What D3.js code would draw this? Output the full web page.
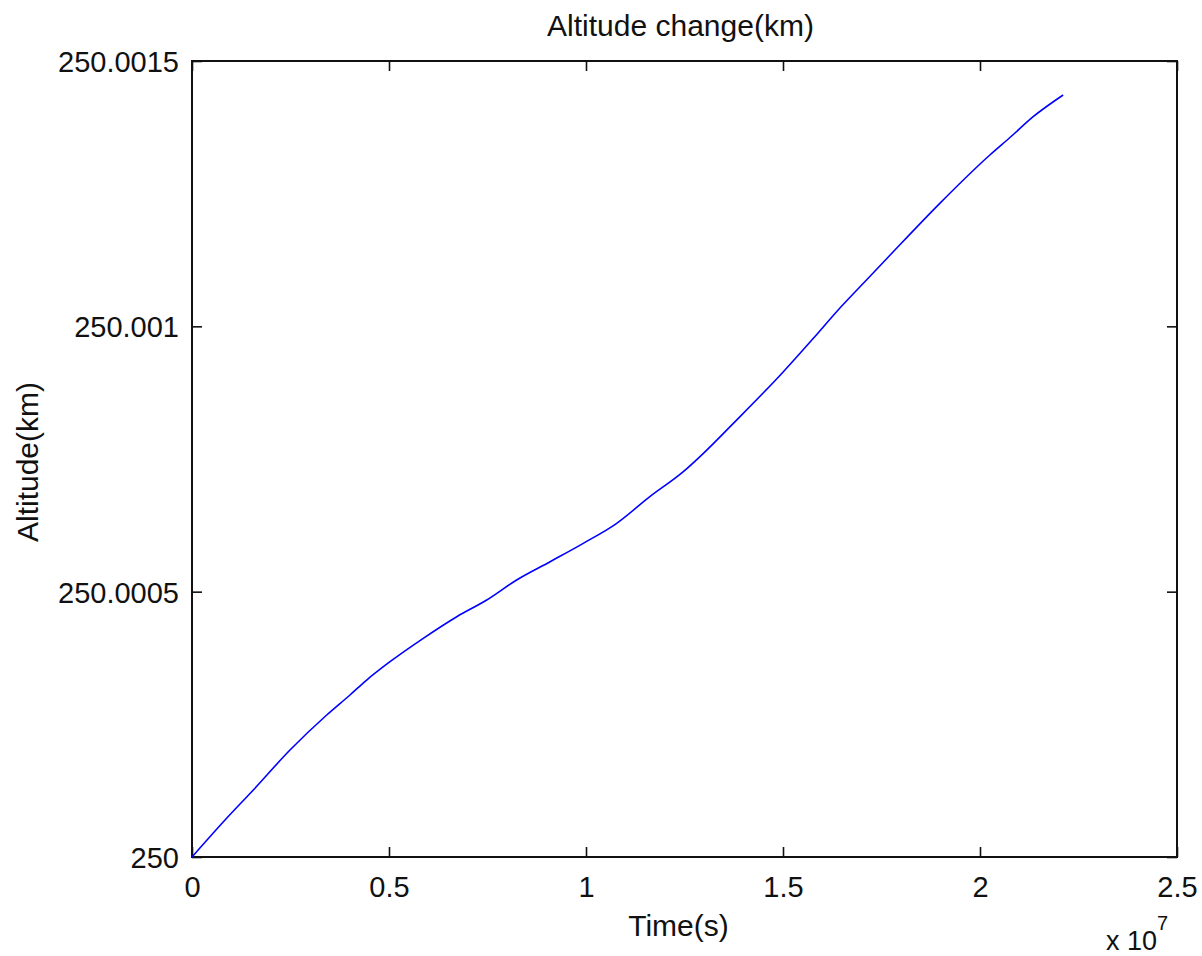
<!DOCTYPE html>
<html>
<head>
<meta charset="utf-8">
<script src="https://cdn.jsdelivr.net/npm/d3@7"></script>
<style>
  html, body { margin: 0; padding: 0; background: #fff; }
  svg text { font-family: "Liberation Sans", Arial, Helvetica, sans-serif; fill: #111; }
</style>
</head>
<body>
<svg id="chart" width="1202" height="956"></svg>
<script>
// Orbit altitude over time
const timeSec = [0, 838000, 1556000, 2487000, 3419000, 4010000, 4434000, 5025000,
  5870000, 6720000, 7480000, 8240000, 9090000, 9930000, 10780000, 11620000,
  12470000, 12980000, 13740000, 15010000, 15770000, 16400000, 17040000,
  17720000, 18980000, 20250000, 20760000, 21350000, 22110000];
const altitudeKm = [250, 250.0000697, 250.0001263, 250.0002016, 250.0002676,
  250.0003053, 250.0003335, 250.000368, 250.0004121, 250.0004528, 250.0004843,
  250.000522, 250.0005565, 250.0005911, 250.0006288, 250.000679, 250.0007261,
  250.0007607, 250.0008172, 250.0009145, 250.0009774, 250.0010308, 250.0010811,
  250.0011344, 250.0012318, 250.0013229, 250.0013558, 250.001395, 250.0014359];

const xTicks = [0, 0.5e7, 1e7, 1.5e7, 2e7, 2.5e7];
const xTickLabels = ["0", "0.5", "1", "1.5", "2", "2.5"];
const yTicks = [250, 250.0005, 250.001, 250.0015];
const yTickLabels = ["250", "250.0005", "250.001", "250.0015"];

const titleText = "Altitude change(km)";
const xLabelText = "Time(s)";
const yLabelText = "Altitude(km)";

const svg = d3.select("#chart");
const plotLeft = 192, plotRight = 1177, plotTop = 61, plotBottom = 857;

const x = d3.scaleLinear().domain([0, 2.5e7]).range([plotLeft, plotRight]);
const y = d3.scaleLinear().domain([250, 250.0015]).range([plotBottom, plotTop]);

const tickLen = 10;
const tickFont = 29;
const labelFont = 30;

// bottom axis with inward ticks
const xAxis = d3.axisBottom(x).tickValues(xTicks)
  .tickFormat((d, i) => xTickLabels[i]).tickSizeInner(-tickLen).tickSizeOuter(0).tickPadding(19);
const gx = svg.append("g").attr("transform", `translate(0,${plotBottom})`).call(xAxis);

// top axis ticks (no labels)
const gxTop = svg.append("g").attr("transform", `translate(0,${plotTop})`)
  .call(d3.axisTop(x).tickValues(xTicks).tickFormat("").tickSizeInner(-tickLen).tickSizeOuter(0));

// left axis with inward ticks
const yAxis = d3.axisLeft(y).tickValues(yTicks)
  .tickFormat((d, i) => yTickLabels[i]).tickSizeInner(-tickLen).tickSizeOuter(0).tickPadding(13);
const gy = svg.append("g").attr("transform", `translate(${plotLeft},0)`).call(yAxis);

// right axis ticks (no labels)
const gyRight = svg.append("g").attr("transform", `translate(${plotRight},0)`)
  .call(d3.axisRight(y).tickValues(yTicks).tickFormat("").tickSizeInner(-tickLen).tickSizeOuter(0));

[gx, gxTop, gy, gyRight].forEach(g => {
  g.select(".domain").remove();
  g.selectAll(".tick line").attr("stroke", "#111").attr("stroke-width", 1.6);
  g.selectAll(".tick text").attr("font-size", tickFont).attr("fill", "#111")
    .style("font-family", '"Liberation Sans", Arial, sans-serif');
});
gx.selectAll(".tick text").attr("dy", "0.71em");
gy.selectAll(".tick text").attr("dy", "0.36em");

// axes box
svg.append("rect")
  .attr("x", plotLeft).attr("y", plotTop)
  .attr("width", plotRight - plotLeft).attr("height", plotBottom - plotTop)
  .attr("fill", "none").attr("stroke", "#111").attr("stroke-width", 2);

// altitude curve
const line = d3.line().x((d, i) => x(timeSec[i])).y(d => y(d)).curve(d3.curveMonotoneX);
svg.append("path")
  .datum(altitudeKm)
  .attr("d", line)
  .attr("fill", "none")
  .attr("stroke", "#0000ff")
  .attr("stroke-width", 1.6)
  .attr("stroke-linejoin", "round");

// titles
svg.append("text").attr("x", (plotLeft + plotRight) / 2 - 4).attr("y", 36)
  .attr("text-anchor", "middle").attr("font-size", labelFont).text(titleText);

svg.append("text").attr("x", (plotLeft + plotRight) / 2 - 6).attr("y", 936)
  .attr("text-anchor", "middle").attr("font-size", labelFont).text(xLabelText);

svg.append("text")
  .attr("transform", `translate(38,${(plotTop + plotBottom) / 2 + 3}) rotate(-90)`)
  .attr("text-anchor", "middle").attr("font-size", labelFont).text(yLabelText);

// exponent note for the time axis
const expo = svg.append("text").attr("x", 1106).attr("y", 950).attr("font-size", 27);
expo.append("tspan").text("x 10");
expo.append("tspan").attr("dy", -20).attr("font-size", 20).text("7");
</script>
</body>
</html>
